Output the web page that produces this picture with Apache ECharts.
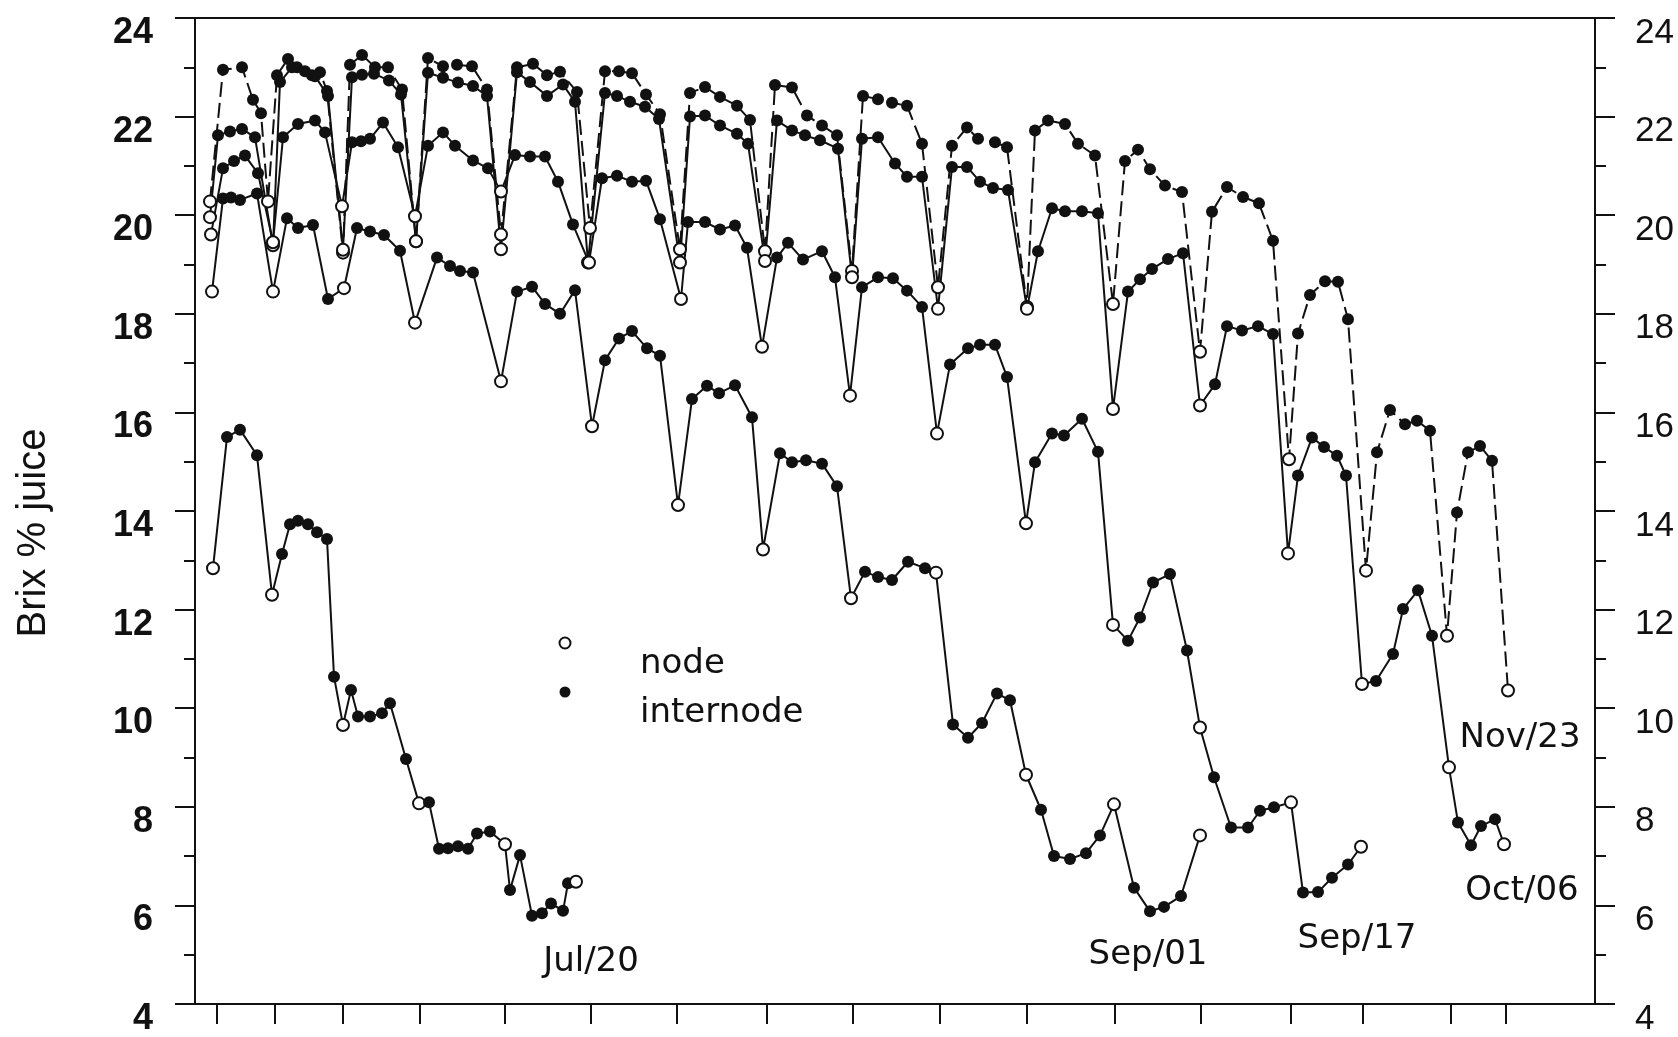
<!DOCTYPE html>
<html>
<head>
<meta charset="utf-8">
<script src="https://cdn.jsdelivr.net/npm/echarts@6/dist/echarts.min.js"></script>
<style>
  html, body { margin: 0; padding: 0; background: #ffffff; }
  #chart { width: 1678px; height: 1037px; }
</style>
</head>
<body>
<div id="chart"></div>
<script>
// Each point: [position along the stalk (mm from the base), Brix % juice, 1 = node / 0 = internode]
const jul20 = [
  [18, 12.84, 1], [32, 15.5, 0], [45, 15.65, 0], [62, 15.13, 0],
  [77, 12.3, 1], [87, 13.13, 0], [95, 13.73, 0], [103, 13.8, 0], [113, 13.73, 0], [122, 13.57, 0], [132, 13.43, 0], [139, 10.64, 0],
  [148, 9.66, 1], [156, 10.37, 0], [163, 9.83, 0], [175, 9.83, 0], [187, 9.9, 0], [195, 10.1, 0], [211, 8.97, 0],
  [224, 8.07, 1], [234, 8.09, 0], [244, 7.15, 0], [253, 7.16, 0], [263, 7.2, 0], [273, 7.15, 0], [282, 7.46, 0], [295, 7.5, 0],
  [310, 7.24, 1], [315, 6.31, 0], [325, 7.02, 0], [337, 5.79, 0], [347, 5.84, 0], [356, 6.04, 0], [368, 5.89, 0], [373, 6.45, 0],
  [381, 6.48, 1]
];

const sep01 = [
  [17, 18.45, 1], [28, 20.34, 0], [36, 20.36, 0], [45, 20.31, 0], [62, 20.44, 0],
  [78, 18.45, 1], [92, 19.94, 0], [103, 19.74, 0], [118, 19.8, 0], [133, 18.3, 0],
  [149, 18.52, 1], [162, 19.74, 0], [175, 19.67, 0], [189, 19.6, 0], [205, 19.28, 0],
  [220, 17.82, 1], [242, 19.14, 0], [255, 18.97, 0], [265, 18.87, 0], [278, 18.84, 0],
  [306, 16.63, 1], [322, 18.45, 0], [337, 18.55, 0], [350, 18.2, 0], [365, 18.0, 0], [380, 18.48, 0],
  [397, 15.72, 1], [410, 17.06, 0], [424, 17.5, 0], [437, 17.65, 0], [452, 17.3, 0], [465, 17.15, 0],
  [483, 14.12, 1], [497, 16.27, 0], [512, 16.54, 0], [524, 16.39, 0], [540, 16.55, 0], [557, 15.9, 0],
  [568, 13.22, 1], [585, 15.17, 0], [597, 14.99, 0], [611, 15.03, 0], [627, 14.96, 0], [642, 14.5, 0],
  [656, 12.23, 1], [670, 12.77, 0], [683, 12.66, 0], [697, 12.6, 0], [713, 12.97, 0], [730, 12.84, 0],
  [741, 12.75, 1], [758, 9.67, 0], [773, 9.4, 0], [787, 9.7, 0], [802, 10.3, 0], [815, 10.16, 0],
  [831, 8.65, 1], [846, 7.94, 0], [859, 7.0, 0], [875, 6.94, 0], [891, 7.06, 0], [905, 7.42, 0],
  [919, 8.05, 1], [939, 6.36, 0], [955, 5.88, 0], [969, 5.97, 0], [986, 6.19, 0],
  [1005, 7.42, 1]
];

const sep17 = [
  [16, 19.61, 1], [28, 20.95, 0], [39, 21.1, 0], [50, 21.21, 0], [63, 20.85, 0],
  [78, 19.45, 1], [88, 21.58, 0], [103, 21.85, 0], [120, 21.92, 0], [130, 21.68, 0],
  [147, 20.18, 1], [157, 21.48, 0], [166, 21.5, 0], [175, 21.55, 0], [188, 21.88, 0], [203, 21.38, 0],
  [220, 19.98, 1], [233, 21.41, 0], [248, 21.68, 0], [260, 21.41, 0], [278, 21.11, 0], [293, 20.95, 0],
  [306, 20.48, 1], [320, 21.22, 0], [335, 21.19, 0], [350, 21.19, 0], [363, 20.68, 0], [378, 19.81, 0],
  [394, 19.04, 1], [407, 20.75, 0], [422, 20.8, 0], [437, 20.68, 0], [451, 20.7, 0], [465, 19.92, 0],
  [486, 18.3, 1], [493, 19.86, 0], [510, 19.86, 0], [525, 19.71, 0], [540, 19.79, 0], [552, 19.34, 0],
  [567, 17.33, 1], [582, 19.14, 0], [593, 19.44, 0], [608, 19.1, 0], [627, 19.27, 0], [640, 18.74, 0],
  [655, 16.34, 1], [667, 18.54, 0], [683, 18.74, 0], [698, 18.72, 0], [712, 18.47, 0], [727, 18.14, 0],
  [742, 15.57, 1], [755, 16.97, 0], [773, 17.3, 0], [785, 17.37, 0], [800, 17.37, 0], [812, 16.72, 0],
  [831, 13.75, 1], [840, 14.99, 0], [857, 15.57, 0], [869, 15.53, 0], [887, 15.87, 0], [903, 15.2, 0],
  [918, 11.69, 1], [933, 11.37, 0], [945, 11.84, 0], [958, 12.55, 0], [975, 12.72, 0], [992, 11.17, 0],
  [1005, 9.61, 1], [1019, 8.6, 0], [1036, 7.58, 0], [1053, 7.58, 0], [1065, 7.92, 0], [1079, 7.99, 0],
  [1096, 8.09, 1], [1108, 6.26, 0], [1123, 6.27, 0], [1137, 6.56, 0], [1153, 6.83, 0],
  [1166, 7.19, 1]
];

const oct06 = [
  [15, 19.96, 1], [23, 21.62, 0], [35, 21.7, 0], [47, 21.75, 0], [60, 21.58, 0],
  [78, 19.39, 1], [85, 22.7, 0], [97, 23.0, 0], [110, 22.92, 0], [120, 22.82, 0], [133, 22.42, 0],
  [148, 19.3, 1], [157, 22.8, 0], [167, 22.85, 0], [179, 22.87, 0], [194, 22.73, 0], [206, 22.45, 0],
  [221, 19.47, 1], [233, 22.89, 0], [248, 22.79, 0], [263, 22.69, 0], [278, 22.62, 0], [292, 22.42, 0],
  [306, 19.31, 1], [322, 22.9, 0], [335, 22.7, 0], [352, 22.42, 0], [368, 22.65, 0], [380, 22.3, 0],
  [393, 19.04, 1], [410, 22.48, 0], [422, 22.42, 0], [435, 22.3, 0], [450, 22.2, 0], [464, 21.95, 0],
  [485, 19.04, 1], [495, 22.0, 0], [510, 22.02, 0], [525, 21.82, 0], [542, 21.65, 0], [553, 21.45, 0],
  [570, 19.07, 1], [582, 21.92, 0], [597, 21.72, 0], [610, 21.62, 0], [625, 21.52, 0], [643, 21.35, 0],
  [657, 18.74, 1], [667, 21.55, 0], [683, 21.58, 0], [700, 21.05, 0], [712, 20.78, 0], [727, 20.78, 0],
  [743, 18.1, 1], [757, 20.98, 0], [772, 20.98, 0], [785, 20.68, 0], [798, 20.55, 0], [813, 20.51, 0],
  [832, 18.1, 1], [843, 19.27, 0], [857, 20.14, 0], [870, 20.08, 0], [887, 20.08, 0], [903, 20.04, 0],
  [918, 16.07, 1], [933, 18.45, 0], [945, 18.7, 0], [957, 18.91, 0], [973, 19.11, 0], [988, 19.23, 0],
  [1005, 16.14, 1], [1020, 16.57, 0], [1032, 17.75, 0], [1047, 17.66, 0], [1063, 17.75, 0], [1078, 17.59, 0],
  [1093, 13.14, 1], [1103, 14.72, 0], [1117, 15.49, 0], [1129, 15.3, 0], [1142, 15.12, 0], [1151, 14.72, 0],
  [1167, 10.49, 1], [1181, 10.55, 0], [1198, 11.1, 0], [1208, 12.01, 0], [1223, 12.39, 0], [1237, 11.47, 0],
  [1254, 8.8, 1], [1263, 7.68, 0], [1276, 7.22, 0], [1286, 7.61, 0], [1300, 7.75, 0],
  [1309, 7.24, 1]
];

const nov23 = [
  [15, 20.28, 1], [28, 22.95, 0], [47, 23.0, 0], [58, 22.34, 0], [66, 22.07, 0],
  [73, 20.28, 1], [82, 22.84, 0], [93, 23.17, 0], [102, 23.0, 0], [117, 22.84, 0], [125, 22.9, 0], [132, 22.52, 0],
  [148, 19.24, 1], [155, 23.05, 0], [167, 23.25, 0], [180, 23.0, 0], [193, 23.0, 0], [207, 22.55, 0],
  [221, 19.47, 1], [233, 23.19, 0], [248, 23.02, 0], [262, 23.05, 0], [277, 23.02, 0], [292, 22.55, 0],
  [306, 19.61, 1], [322, 23.0, 0], [338, 23.07, 0], [352, 22.84, 0], [365, 22.91, 0], [382, 22.5, 0],
  [395, 19.74, 1], [410, 22.92, 0], [424, 22.92, 0], [437, 22.88, 0], [451, 22.45, 0], [465, 22.05, 0],
  [485, 19.31, 1], [495, 22.48, 0], [510, 22.6, 0], [525, 22.4, 0], [542, 22.22, 0], [555, 21.93, 0],
  [570, 19.27, 1], [580, 22.64, 0], [597, 22.59, 0], [612, 22.02, 0], [627, 21.82, 0], [642, 21.62, 0],
  [657, 18.87, 1], [668, 22.42, 0], [683, 22.35, 0], [697, 22.28, 0], [712, 22.22, 0], [727, 21.45, 0],
  [743, 18.54, 1], [757, 21.41, 0], [772, 21.78, 0], [783, 21.55, 0], [800, 21.48, 0], [812, 21.38, 0],
  [832, 18.14, 1], [840, 21.72, 0], [853, 21.92, 0], [870, 21.85, 0], [883, 21.45, 0], [900, 21.21, 0],
  [918, 18.2, 1], [930, 21.1, 0], [943, 21.33, 0], [955, 20.93, 0], [970, 20.6, 0], [987, 20.47, 0],
  [1005, 17.23, 1], [1017, 20.07, 0], [1032, 20.57, 0], [1048, 20.37, 0], [1064, 20.24, 0], [1078, 19.48, 0],
  [1094, 15.05, 1], [1103, 17.6, 0], [1115, 18.38, 0], [1130, 18.66, 0], [1143, 18.65, 0], [1153, 17.89, 0],
  [1171, 12.79, 1], [1182, 15.19, 0], [1195, 16.05, 0], [1210, 15.76, 0], [1222, 15.83, 0], [1235, 15.63, 0],
  [1252, 11.47, 1], [1262, 13.97, 0], [1273, 15.19, 0], [1285, 15.32, 0], [1297, 15.02, 0],
  [1313, 10.36, 1]
];

// Node positions marked on the bottom axis
const nodeTicks = [22, 80, 148, 225, 310, 396, 482, 572, 658, 745, 832, 920, 1006, 1096, 1168, 1256, 1311];

const brixMin = 4, brixMax = 24, brixStep = 2;
const stalkLength = 1400;

const INK = '#111111';

function toItems(points) {
  return points.map(function (p) {
    const isNode = p[2] === 1;
    return {
      value: [p[0], p[1]],
      itemStyle: isNode
        ? { color: '#ffffff', borderColor: INK, borderWidth: 2 }
        : { color: INK, borderColor: INK, borderWidth: 0 }
    };
  });
}

function curve(name, points, dashed) {
  return {
    type: 'line',
    name: name,
    data: toItems(points),
    symbol: 'circle',
    symbolSize: 12,
    showSymbol: true,
    showAllSymbol: true,
    clip: false,
    lineStyle: { color: INK, width: 2, type: dashed ? [15, 6] : 'solid' },
    emphasis: { disabled: true },
    animation: false
  };
}

const chart = echarts.init(document.getElementById('chart'), null, { renderer: 'canvas' });

const yCommon = {
  type: 'value',
  min: brixMin,
  max: brixMax,
  interval: brixStep,
  splitLine: { show: false },
  axisLine: { show: true, lineStyle: { color: INK, width: 2 } },
  axisTick: { show: true, inside: false, length: 20, lineStyle: { color: INK, width: 2 } },
  minorTick: { show: true, splitNumber: 2, length: 11, lineStyle: { color: INK, width: 2 } },
  minorSplitLine: { show: false }
};

chart.setOption({
  backgroundColor: '#ffffff',
  animation: false,
  grid: {
    left: 195, right: 83, top: 18, bottom: 30,
    show: true, borderColor: INK, borderWidth: 2, backgroundColor: 'transparent'
  },
  xAxis: {
    type: 'value',
    min: 0,
    max: stalkLength,
    splitLine: { show: false },
    axisLine: { show: true, onZero: false, lineStyle: { color: INK, width: 2 } },
    axisTick: { show: true, inside: false, length: 20, customValues: nodeTicks, lineStyle: { color: INK, width: 2 } },
    axisLabel: { show: false, customValues: nodeTicks }
  },
  yAxis: [
    Object.assign({}, yCommon, {
      position: 'left',
      axisLabel: {
        show: true, color: INK, fontFamily: 'Liberation Sans', fontWeight: 'bold', fontSize: 36,
        margin: 42, verticalAlign: 'top', lineHeight: 30
      }
    }),
    Object.assign({}, yCommon, {
      position: 'right',
      axisLabel: {
        show: true, color: INK, fontFamily: 'Liberation Sans', fontWeight: 'normal', fontSize: 35,
        margin: 40, verticalAlign: 'top', lineHeight: 30
      }
    })
  ],
  series: [
    curve('Nov/23', nov23, true),
    curve('Oct/06', oct06, false),
    curve('Sep/17', sep17, false),
    curve('Sep/01', sep01, false),
    curve('Jul/20', jul20, false)
  ],
  graphic: [
    {
      type: 'text', x: 34, y: 533, rotation: Math.PI / 2,
      style: { text: 'Brix % juice', fill: INK, font: '40px "Liberation Sans"', textAlign: 'center', textVerticalAlign: 'middle' }
    },
    { type: 'circle', shape: { cx: 565, cy: 643, r: 5.5 }, style: { fill: '#ffffff', stroke: INK, lineWidth: 2 } },
    { type: 'circle', shape: { cx: 565, cy: 692, r: 5.5 }, style: { fill: INK } },
    { type: 'text', x: 640, y: 664, style: { text: 'node', fill: INK, font: '34px "DejaVu Sans"', textAlign: 'left', textVerticalAlign: 'middle' } },
    { type: 'text', x: 640, y: 713, style: { text: 'internode', fill: INK, font: '34px "DejaVu Sans"', textAlign: 'left', textVerticalAlign: 'middle' } },
    { type: 'text', x: 591, y: 962, style: { text: 'Jul/20', fill: INK, font: '34px "DejaVu Sans"', textAlign: 'center', textVerticalAlign: 'middle' } },
    { type: 'text', x: 1148, y: 955, style: { text: 'Sep/01', fill: INK, font: '34px "DejaVu Sans"', textAlign: 'center', textVerticalAlign: 'middle' } },
    { type: 'text', x: 1357, y: 939, style: { text: 'Sep/17', fill: INK, font: '34px "DejaVu Sans"', textAlign: 'center', textVerticalAlign: 'middle' } },
    { type: 'text', x: 1522, y: 891, style: { text: 'Oct/06', fill: INK, font: '34px "DejaVu Sans"', textAlign: 'center', textVerticalAlign: 'middle' } },
    { type: 'text', x: 1520, y: 738, style: { text: 'Nov/23', fill: INK, font: '34px "DejaVu Sans"', textAlign: 'center', textVerticalAlign: 'middle' } }
  ]
});
</script>
</body>
</html>
